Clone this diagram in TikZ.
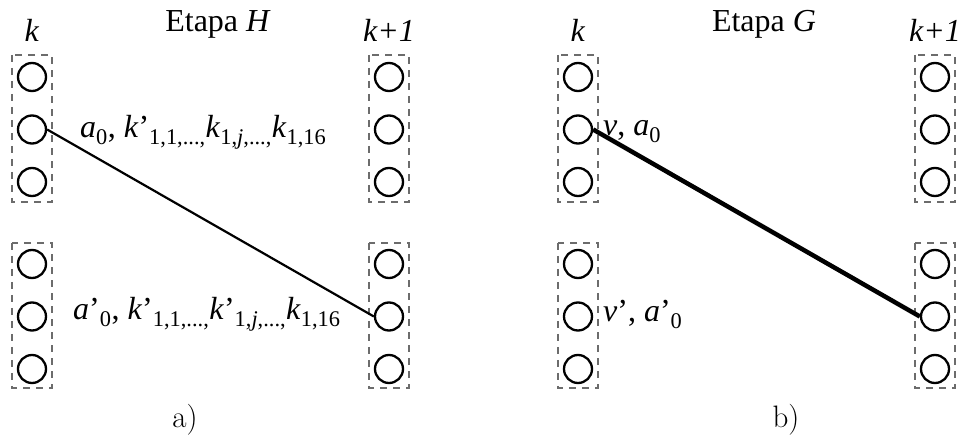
\documentclass[tikz,border=0pt]{standalone}
\usepackage{fontspec}
\newfontfamily\tnr{Liberation Serif}

\tikzset{
    neuron/.style={circle, draw, line width=2.3pt, minimum size=28pt, inner sep=0pt},
    groupbox/.style={draw=gray!85!black, line width=1.2pt, dash pattern=on 7pt off 6pt},
    link/.style={line width=2.2pt},
    lbl/.style={font=\tnr\fontsize{32}{38}\selectfont, inner sep=0pt},
    caption/.style={font=\fontsize{31}{37}\selectfont, inner sep=0pt},
}

\begin{document}
\begin{tikzpicture}[x=1pt, y=1pt]

\useasboundingbox (0,0) rectangle (962,-438);

% === Columns of units, two groups of three ===
\foreach \pn/\xl/\xr in {a/32/389, b/578/935} {
    \foreach \r/\y in {1/77, 2/129.5, 3/182, 4/264, 5/316.5, 6/369} {
        \node[neuron] (\pn L\r) at (\xl,-\y) {};
        \node[neuron] (\pn R\r) at (\xr,-\y) {};
    }
    % dashed group boxes
    \foreach \xc in {\xl, \xr} {
        \draw[groupbox] (\xc-20,-55) rectangle (\xc+20,-202);
        \draw[groupbox] (\xc-20,-243) rectangle (\xc+20,-388);
    }
    % column headers
    \node[lbl, anchor=base] (\pn kL) at (\xl,-42) {\textit{k}};
    \node[lbl, anchor=base] (\pn kR) at (\xr,-42) {\textit{k+1}};
}

% === a) Etapa H ===
\node[lbl, anchor=base] (etapaH) at (218,-32) {Etapa \textit{H}};
\draw[link] (aL2.east) -- (aR5.west);
\node[lbl, anchor=base west] (labH1) at (80,-138)
    {\textit{a}\textsubscript{0}, \textit{k}’\textsubscript{1,1,...,}\textit{k}\textsubscript{1,\textit{j},...,}\textit{k}\textsubscript{1,16}};
\node[lbl, anchor=base west] (labH2) at (73,-320)
    {\textit{a}’\textsubscript{0}, \textit{k}’\textsubscript{1,1,...,}\textit{k}’\textsubscript{1,\textit{j},...,}\textit{k}\textsubscript{1,16}};
\node[caption, anchor=base] (capA) at (185,-428) {a)};

% === b) Etapa G ===
\node[lbl, anchor=base] (etapaG) at (764,-32) {Etapa \textit{G}};
\draw[link, line width=4.5pt] (bL2.east) -- (bR5.west);
\node[lbl, anchor=base west] (labG1) at (603,-136) {\textit{v}, \textit{a}\textsubscript{0}};
\node[lbl, anchor=base west] (labG2) at (603,-322) {\textit{v}’, \textit{a}’\textsubscript{0}};
\node[caption, anchor=base] (capB) at (786,-428) {b)};

\end{tikzpicture}
\end{document}
